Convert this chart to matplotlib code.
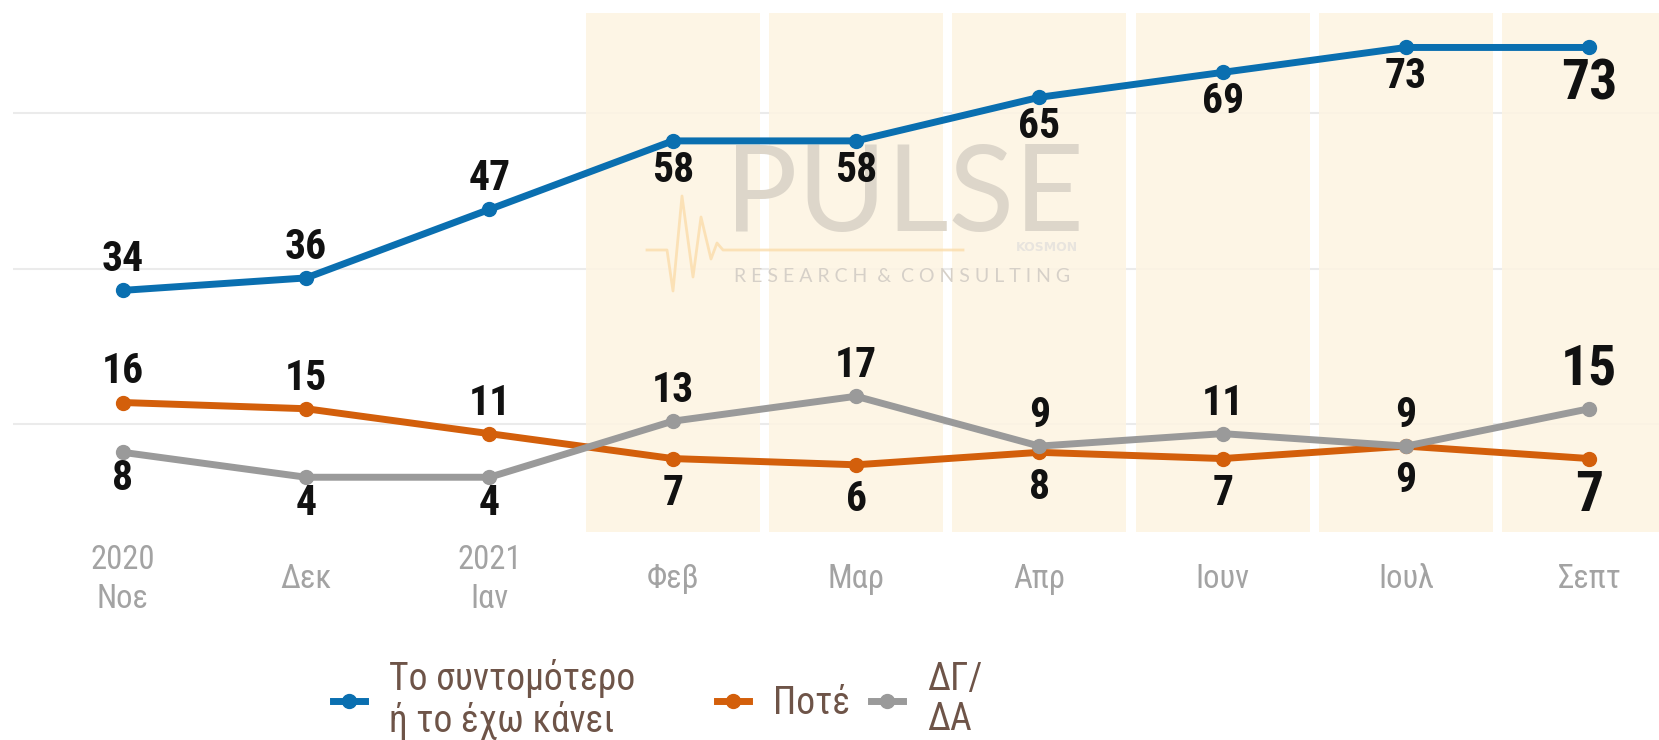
import matplotlib.pyplot as plt
from matplotlib.lines import Line2D

# data
months = ['2020\nΝοε', 'Δεκ', '2021\nΙαν', 'Φεβ', 'Μαρ', 'Απρ', 'Ιουν', 'Ιουλ', 'Σεπτ']
soonest = [34, 36, 47, 58, 58, 65, 69, 73, 73]
never = [16, 15, 11, 7, 6, 8, 7, 9, 7]
dkna = [8, 4, 4, 13, 17, 9, 11, 9, 15]
series_names = ['Το συντομότερο\nή το έχω κάνει', 'Ποτέ', 'ΔΓ/\nΔΑ']

# label side: +1 above, -1 below
soonest_side = [1, 1, 1, -1, -1, -1, -1, -1, -1]
never_side = [1, 1, 1, -1, -1, -1, -1, -1, -1]
dkna_side = [-1, -1, -1, 1, 1, 1, 1, 1, 1]

colors = ['#0a6fb0', '#d35f0b', '#9a9a9a']
band_color = '#fdf4e2'

plt.rcParams['font.family'] = ['Roboto Condensed', 'Roboto', 'DejaVu Sans']

fig = plt.figure(figsize=(16.59, 7.40), dpi=100)
ax = fig.add_axes([0.0077, 0.281, 0.9923, 0.702])

x = list(range(len(months)))

# grid lines
for g in [12.5, 37.5, 62.5]:
    ax.axhline(g, color='#ebebeb', lw=1.5, zorder=0)

# shaded bands from Φεβ onwards
for i in range(3, len(months)):
    ax.axvspan(i - 0.475, i + 0.475, color=band_color, alpha=0.88, lw=0, zorder=1)

# watermark (logo), kept under the lines and labels
ft = fig.transFigure
ax.text(0.545, 0.733, 'PULSE', fontsize=87, color='#ddd6ca', family='Lato',
        fontweight='normal', ha='center', va='center', transform=ft, zorder=2)
ax.text(0.544, 0.626, 'R E S E A R C H  &  C O N S U L T I N G', fontsize=14,
        color='#d6d0c8', family='Lato', ha='center', va='center', transform=ft, zorder=2)
ax.text(0.631, 0.666, 'KOSMON', fontsize=9, color='#e8e4de', family='DejaVu Sans',
        fontweight='bold', ha='center', va='center', transform=ft, zorder=2)
wx = [647, 667, 673, 682, 693, 701, 711, 717, 723, 963]
wy = [250, 250, 291, 196, 277, 217, 259, 243, 250, 250]
ax.add_line(Line2D([v / 1659 for v in wx], [1 - v / 740 for v in wy], transform=ft,
                   color='#fbdcab', lw=2, alpha=0.8, zorder=2))

all_series = [soonest, never, dkna]
all_sides = [soonest_side, never_side, dkna_side]
below_off = [-21, -25, -19]
for k, (vals, sides, col) in enumerate(zip(all_series, all_sides, colors)):
    ax.plot(x, vals, color=col, lw=5, marker='o', markersize=10, zorder=4,
            solid_joinstyle='round')
    for i, (v, s) in enumerate(zip(vals, sides)):
        last = i == len(vals) - 1
        size = 40 if last else 30
        if s > 0:
            off = 28 if last else 22
        else:
            off = -27 if last else below_off[k]
        ax.annotate(str(v), (i, v), xytext=(0, off), textcoords='offset points',
                    ha='center', va='center', fontsize=size, fontweight='bold',
                    color='#111111', zorder=5)

ax.set_xlim(-0.6, 8.38)
ax.set_ylim(-4.8, 78.6)
ax.set_yticks([])
ax.set_xticks(x)
ax.set_xticklabels(months, fontsize=23.5, color='#a3a3a3', linespacing=1.3)
for lab in ax.get_xticklabels():
    lab.set_va('center')
ax.tick_params(axis='x', length=0, pad=34)
for sp in ax.spines.values():
    sp.set_visible(False)

# legend, split in two so the first entry keeps its wider gap
handles = [Line2D([0], [0], color=c, lw=5, marker='o', markersize=10) for c in colors]
leg_kw = dict(loc='center left', frameon=False, fontsize=27, handlelength=0.85,
              handletextpad=0.65, columnspacing=0.56, borderpad=0, borderaxespad=0)
leg1 = fig.legend(handles[:1], series_names[:1], bbox_to_anchor=(0.2007, 0.055), ncol=1, **leg_kw)
leg2 = fig.legend(handles[1:], series_names[1:], bbox_to_anchor=(0.432, 0.055), ncol=2, **leg_kw)
for leg in (leg1, leg2):
    for t in leg.get_texts():
        t.set_color('#6e5448')
        t.set_linespacing(1.1)

fig.savefig('out.png', dpi=100)
